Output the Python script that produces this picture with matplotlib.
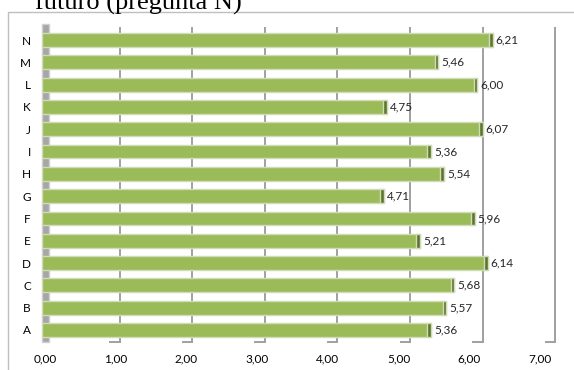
import matplotlib.pyplot as plt
from matplotlib.patches import Rectangle

# ----------------------------
# Data
# ----------------------------
categories = ["A", "B", "C", "D", "E", "F", "G", "H", "I", "J", "K", "L", "M", "N"]
values = [5.36, 5.57, 5.68, 6.14, 5.21, 5.96, 4.71, 5.54, 5.36, 6.07, 4.75, 6.00, 5.46, 6.21]
x_ticks = [0, 1, 2, 3, 4, 5, 6, 7]
x_tick_labels = ["0,00", "1,00", "2,00", "3,00", "4,00", "5,00", "6,00", "7,00"]

BAR_GREEN = "#9bbb59"
CAP_GREEN = "#5e7430"
EDGE = "#d0dcb8"
GRID = "#a0a0a0"
DEPTH = 0.07  # 3D shift of the back wall, in data units
LABEL_FONT = "Lato"

W, H = 574, 370
fig = plt.figure(figsize=(W / 100, H / 100), dpi=100)

# chart frame (only top/left visible in the crop)
fig.patches.append(Rectangle((8 / W, -0.1), 1.2, (370 - 12) / H + 0.1,
                             transform=fig.transFigure, fill=False,
                             edgecolor="#bfbfbf", linewidth=1.0))

# title, cut at the top of the picture like in the source
fig.text(35 / W, 1 - 10 / H, "futuro (pregunta N)", family="Liberation Serif",
         fontsize=19, ha="left", va="baseline", color="black")

ax = fig.add_axes([42 / W, (H - 342) / H, 508 / W, 314 / H])
ax.set_xlim(0, 7)
ax.set_ylim(-0.54, len(categories) - 1 + 0.54)
for s in ax.spines.values():
    s.set_visible(False)
ax.patch.set_alpha(0)

y_bottom, y_top = ax.get_ylim()

# back-wall gridlines with a small L-shaped foot
for k in x_ticks[1:]:
    ax.plot([k + DEPTH, k + DEPTH], [y_bottom + 0.02, y_top], color=GRID, lw=1.4,
            zorder=1, clip_on=False)
    ax.plot([k - 0.06, k + DEPTH], [y_bottom + 0.02, y_bottom + 0.02], color=GRID,
            lw=1.4, zorder=1, clip_on=False)

# left wall
ax.add_patch(Rectangle((0.0, y_bottom), DEPTH + 0.02, y_top - y_bottom + 0.2,
                       facecolor="#a6a6a6", edgecolor="#d0d0d0", lw=1.0,
                       zorder=1, clip_on=False))

ypos = list(range(len(categories)))
ax.barh(ypos, values, height=0.62, color=BAR_GREEN, edgecolor=EDGE, linewidth=1.0, zorder=3)
cap_w = 0.05
ax.barh(ypos, [cap_w] * len(values), left=[v - cap_w for v in values], height=0.62,
        color=CAP_GREEN, edgecolor=EDGE, linewidth=1.0, zorder=4)

for y, v in zip(ypos, values):
    ax.text(v + 0.04, y, f"{v:.2f}".replace(".", ","), va="center", ha="left",
            fontsize=8.5, family=LABEL_FONT, color="#262626", zorder=5)

ax.set_yticks(ypos)
ax.set_yticklabels(categories, family=LABEL_FONT, fontsize=8.5)
ax.tick_params(axis="y", length=0, pad=8)
ax.set_xticks([])

# front-edge value axis labels (perspective makes them a bit narrower)
lab = fig.add_axes([45 / W, (H - 342) / H, 495 / W, 0.001])
lab.set_xlim(0, 7)
lab.set_yticks([])
lab.patch.set_alpha(0)
for s in lab.spines.values():
    s.set_visible(False)
lab.set_xticks(x_ticks)
lab.set_xticklabels(x_tick_labels, family=LABEL_FONT, fontsize=8.5)
lab.tick_params(axis="x", length=0, pad=8)

plt.savefig("out.png", dpi=100)
